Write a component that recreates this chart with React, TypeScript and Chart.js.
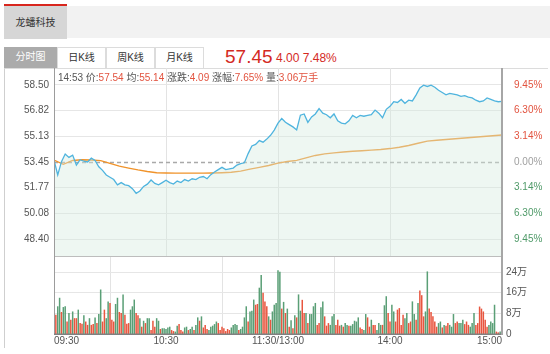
import React, { useEffect, useRef } from 'react';
import { Chart, registerables } from 'chart.js';
Chart.register(...registerables);

const FONT = '"Liberation Sans", Arial, "Noto Sans CJK SC", sans-serif';

const STOCK_NAME = '龙蟠科技';
const TABS = ['分时图', '日K线', '周K线', '月K线'];
const LAST_PRICE = '57.45';
const LAST_CHANGE = '4.00';
const LAST_PCT = '7.48%';
const INFO_LABELS = ['', '价:', '均:', '涨跌:', '涨幅:', '量:'];
const INFO_VALUES = ['14:53', '57.54', '55.14', '4.09', '7.65%', '3.06万手'];

const PREV_CLOSE = 53.45;
const PRICE_HALF_RANGE = 6.16;
const PRICE_TICKS = [58.5, 56.82, 55.13, 53.45, 51.77, 50.08, 48.4];
const PCT_LABELS = ['9.45%', '6.30%', '3.14%', '0.00%', '3.14%', '6.30%', '9.45%'];
const VOL_MAX = 30.2;
const VOL_TICKS = [0, 8, 16, 24];
const VOL_TICK_LABELS = ['0', '8万', '16万', '24万'];
const TIME_TICK_MINUTES = [0, 60, 120, 180, 240];
const TIME_LABELS = ['09:30', '10:30', '11:30/13:00', '14:00', '15:00'];
const PRICE_STEP_MIN = 2;
const AVG_STEP_MIN = 5;

// price every 2 minutes (0..240)
const PRICE = [
  53.58, 52.6, 53.47, 53.97, 53.75, 53.9, 53.25, 53.6, 53.5, 53.45,
  53.7, 53.55, 53.14, 52.9, 52.6, 52.45, 52.3, 51.95, 52.1, 51.95,
  51.9, 51.7, 51.4, 51.55, 51.85, 52.0, 52.27, 52.05, 51.95, 52.1,
  52.25, 52.1, 52.0, 52.2, 52.1, 52.3, 52.2, 52.35, 52.3, 52.45,
  52.5, 52.35, 52.62, 52.8, 52.95, 53.1, 52.95, 53.0, 53.05, 53.25,
  53.35, 53.4, 54.0, 54.5, 54.6, 54.85, 54.75, 54.95, 55.2, 55.54,
  56.0, 56.3, 56.05, 55.9, 55.75, 55.55, 56.52, 56.6, 56.05, 56.4,
  56.6, 56.95, 56.65, 56.55, 56.35, 56.6, 56.15, 56.0, 55.95, 56.15,
  56.5, 56.35, 56.5, 56.45, 56.5, 56.55, 56.85, 56.65, 56.35, 56.9,
  57.1, 57.4, 57.35, 57.55, 57.3, 57.5, 57.45, 57.85, 58.3, 58.48,
  58.4, 58.48, 58.35, 58.15, 58.0, 57.85, 57.95, 57.9, 57.85, 57.75,
  57.8, 57.7, 57.65, 57.5, 57.4, 57.45, 57.65, 57.55, 57.45, 57.4,
  57.42,
];

// average price every 5 minutes (0..240)
const AVG = [
  53.58, 53.3, 53.55, 53.6, 53.58, 53.54, 53.36, 53.18, 53.05, 52.93,
  52.83, 52.75, 52.73, 52.72, 52.72, 52.72, 52.72, 52.73, 52.75, 52.78,
  52.85, 52.98, 53.1, 53.22, 53.38, 53.48, 53.56, 53.72, 53.88, 53.98,
  54.05, 54.11, 54.15, 54.19, 54.23, 54.27, 54.33, 54.42, 54.53, 54.68,
  54.82, 54.88, 54.92, 54.97, 55.02, 55.07, 55.12, 55.17, 55.22,
];

// volume per minute (万股), 0..240
const VOLUME = [
  18.8, 7.3, 10.6, 13.9, 8.4, 10.3, 10.6, 4.7, 8.0, 5.4,
  8.6, 6.0, 6.0, 9.3, 4.1, 3.8, 7.1, 4.7, 3.4, 6.0,
  3.4, 3.7, 6.3, 4.1, 7.6, 17.1, 4.7, 9.3, 6.0, 12.5,
  11.9, 5.4, 4.7, 11.5, 13.9, 8.4, 8.0, 15.2, 7.3, 3.8,
  4.1, 9.3, 10.6, 13.2, 8.0, 7.1, 6.0, 2.7, 5.0, 4.1,
  6.0, 6.0, 1.4, 5.0, 2.7, 6.0, 5.0, 1.8, 2.1, 2.1,
  1.8, 2.4, 2.7, 1.4, 1.0, 0.8, 3.1, 3.7, 1.4, 0.8,
  2.4, 2.7, 1.4, 1.8, 2.7, 1.4, 3.4, 6.3, 5.0, 6.7,
  2.4, 3.4, 1.8, 1.4, 2.7, 3.1, 3.7, 4.7, 4.1, 1.4,
  2.7, 2.1, 1.0, 1.8, 1.4, 2.4, 3.4, 3.7, 3.4, 1.4,
  1.8, 2.7, 6.3, 10.6, 4.7, 8.6, 8.9, 13.2, 11.2, 11.5,
  17.8, 22.7, 15.8, 12.5, 10.6, 6.7, 5.4, 8.6, 11.2, 11.9,
  24.6, 24.0, 9.7, 12.3, 8.0, 9.7, 2.7, 5.2, 2.1, 7.1,
  6.3, 15.2, 8.9, 13.1, 8.0, 8.0, 4.1, 7.6, 7.6, 10.6,
  11.9, 3.4, 4.1, 10.2, 12.5, 6.7, 3.1, 4.1, 3.4, 6.7,
  7.6, 3.4, 5.4, 3.1, 3.4, 2.7, 4.1, 3.4, 3.1, 3.1,
  3.7, 5.0, 4.7, 6.3, 2.4, 1.8, 1.4, 7.6, 6.3, 2.7,
  5.4, 3.4, 3.4, 1.4, 4.1, 3.4, 3.4, 11.0, 14.5, 8.0,
  4.7, 11.2, 8.6, 4.7, 9.3, 9.9, 3.4, 7.3, 6.0, 8.0,
  4.1, 4.7, 12.5, 7.6, 5.4, 11.9, 16.7, 14.9, 6.7, 8.6,
  24.1, 9.7, 8.4, 6.7, 4.7, 2.7, 4.1, 4.7, 2.4, 3.4,
  3.1, 4.1, 3.4, 2.7, 7.6, 4.1, 4.7, 4.1, 4.1, 5.4,
  3.7, 4.7, 3.4, 2.7, 4.1, 8.0, 3.4, 4.1, 10.5, 9.7,
  8.6, 5.4, 2.7, 3.4, 4.7, 4.1, 11.2, 0.8, 0.5, 0.8,
  21.7,
];

// r = up minute, g = down minute
const VOL_DIR =
  'grggrggrgr' + 'grrgrrgrrg' + 'rrgrggrrgg' + 'rrrggrrgrr' + 'rgggrrgrgr' + 'ggrrrggrgg' +
  'gggrrggrrr' + 'ggrggrggrg' + 'rrrgggggrr' + 'rrrrrggggr' + 'ggggrgggrr' + 'ggrrrgrggg' +
  'ggrgrgrgrg' + 'rggrrgrggg' + 'grrggrrrgg' + 'grrrgrggrg' + 'ggggrrggrr' + 'grrgggrggr' +
  'rggrrrrrgg' + 'rrggrgrrrg' + 'grrrrrggrg' + 'rrgggrrggg' + 'rrrgggrrrr' + 'rrrggggrrg' + 'g';

const RED = '#e8563f';
const GREEN = '#5a9f76';

export default function App() {
  const priceRef = useRef<HTMLCanvasElement>(null);
  const volRef = useRef<HTMLCanvasElement>(null);

  useEffect(() => {
    document.body.style.margin = '0';
    const tickFont = { family: FONT, size: 10 };

    const priceFrame = {
      id: 'priceFrame',
      beforeDatasetsDraw(chart: any) {
        const { ctx, chartArea: a, scales } = chart;
        const y = Math.round(scales.y.getPixelForValue(PREV_CLOSE)) + 0.5;
        ctx.save();
        ctx.strokeStyle = '#a9a9a9';
        ctx.lineWidth = 1.5;
        ctx.setLineDash([4, 3]);
        ctx.beginPath();
        ctx.moveTo(a.left, y);
        ctx.lineTo(a.right, y);
        ctx.stroke();
        ctx.restore();
      },
      afterDraw(chart: any) {
        const { ctx, chartArea: a } = chart;
        ctx.save();
        ctx.strokeStyle = '#9c9c9c';
        ctx.lineWidth = 1;
        ctx.beginPath();
        ctx.moveTo(a.left + 0.5, a.top);
        ctx.lineTo(a.left + 0.5, a.bottom);
        ctx.stroke();
        ctx.strokeStyle = '#a6a6a6';
        ctx.lineWidth = 2;
        ctx.beginPath();
        ctx.moveTo(a.right, a.top);
        ctx.lineTo(a.right, a.bottom);
        ctx.stroke();
        ctx.restore();
      },
    };

    const volFrame = {
      id: 'volFrame',
      afterDraw(chart: any) {
        const { ctx, chartArea: a } = chart;
        ctx.save();
        ctx.strokeStyle = '#bdbdbd';
        ctx.lineWidth = 1;
        ctx.beginPath();
        ctx.moveTo(a.left, a.top + 0.5);
        ctx.lineTo(a.right, a.top + 0.5);
        ctx.stroke();
        ctx.strokeStyle = '#9c9c9c';
        ctx.beginPath();
        ctx.moveTo(a.left + 0.5, a.top);
        ctx.lineTo(a.left + 0.5, a.bottom);
        ctx.stroke();
        ctx.strokeStyle = '#808080';
        ctx.lineWidth = 1.5;
        ctx.beginPath();
        ctx.moveTo(a.left, a.bottom + 0.25);
        ctx.lineTo(a.right, a.bottom + 0.25);
        ctx.stroke();
        ctx.strokeStyle = '#a6a6a6';
        ctx.lineWidth = 2;
        ctx.beginPath();
        ctx.moveTo(a.right, a.top);
        ctx.lineTo(a.right, a.bottom + 1);
        ctx.stroke();
        ctx.restore();
      },
    };

    const priceTicks = (s: any) => {
      s.ticks = [...PRICE_TICKS].sort((p, q) => p - q).map((v) => ({ value: v }));
    };

    const pc = new Chart(priceRef.current as HTMLCanvasElement, {
      type: 'line',
      data: {
        datasets: [
          {
            data: PRICE.map((p, i) => ({ x: i * PRICE_STEP_MIN, y: p })),
            borderColor: '#4fb4de',
            borderWidth: 1.3,
            pointRadius: 0,
            fill: 'start',
            backgroundColor: 'rgba(212,234,222,0.4)',
            tension: 0,
          },
          {
            data: AVG.map((p, i) => ({ x: i * AVG_STEP_MIN, y: p })),
            borderColor: '#f0932a',
            borderWidth: 1.4,
            pointRadius: 0,
            fill: false,
            tension: 0,
          },
        ],
      },
      options: {
        animation: false,
        responsive: false,
        maintainAspectRatio: false,
        layout: { padding: 0 },
        plugins: { legend: { display: false }, tooltip: { enabled: false } },
        scales: {
          x: {
            type: 'linear',
            min: 0,
            max: 240,
            afterBuildTicks: (s: any) => {
              s.ticks = [60, 120, 180].map((v) => ({ value: v }));
            },
            ticks: { display: false },
            grid: { color: '#e3e3e3', drawTicks: false },
            border: { display: false },
            afterFit: (s: any) => {
              s.height = 0;
              s.paddingLeft = 0;
              s.paddingRight = 0;
            },
          },
          y: {
            position: 'left',
            min: PREV_CLOSE - PRICE_HALF_RANGE,
            max: PREV_CLOSE + PRICE_HALF_RANGE,
            afterBuildTicks: priceTicks,
            ticks: {
              font: tickFont,
              color: '#555',
              padding: 5,
              autoSkip: false,
              callback: (v: any) => Number(v).toFixed(2),
            },
            grid: {
              drawTicks: false,
              color: (c: any) => (c.tick && c.tick.value === PREV_CLOSE ? 'rgba(0,0,0,0)' : '#e6e6e6'),
            },
            border: { display: false },
            afterFit: (s: any) => {
              s.width = 54;
              s.paddingTop = 0;
              s.paddingBottom = 0;
            },
          },
          y2: {
            position: 'right',
            min: PREV_CLOSE - PRICE_HALF_RANGE,
            max: PREV_CLOSE + PRICE_HALF_RANGE,
            afterBuildTicks: priceTicks,
            ticks: {
              font: tickFont,
              padding: 4,
              autoSkip: false,
              color: (c: any) =>
                !c.tick ? '#999' : c.tick.value > PREV_CLOSE ? '#e2533f' : c.tick.value < PREV_CLOSE ? '#4f9a68' : '#a0a0a0',
              callback: (v: any) => PCT_LABELS[PRICE_TICKS.indexOf(Number(v))],
            },
            grid: { display: false },
            border: { display: false },
            afterFit: (s: any) => {
              s.width = 48;
              s.paddingTop = 0;
              s.paddingBottom = 0;
            },
          },
        },
      },
      plugins: [priceFrame],
    } as any);

    const vc = new Chart(volRef.current as HTMLCanvasElement, {
      type: 'bar',
      data: {
        datasets: [
          {
            data: VOLUME.map((v, i) => ({ x: i, y: v })),
            backgroundColor: VOLUME.map((_, i) => (VOL_DIR[i] === 'r' ? RED : GREEN)),
            barThickness: 0.85,
            borderWidth: 0,
          },
        ],
      },
      options: {
        animation: false,
        responsive: false,
        maintainAspectRatio: false,
        layout: { padding: 0 },
        plugins: { legend: { display: false }, tooltip: { enabled: false } },
        scales: {
          x: {
            type: 'linear',
            min: 0,
            max: 240,
            offset: false,
            afterBuildTicks: (s: any) => {
              s.ticks = TIME_TICK_MINUTES.map((v) => ({ value: v }));
            },
            ticks: {
              font: tickFont,
              color: '#555',
              padding: 1,
              align: 'inner',
              maxRotation: 0,
              autoSkip: false,
              callback: (v: any) => TIME_LABELS[TIME_TICK_MINUTES.indexOf(Number(v))],
            },
            grid: {
              drawTicks: false,
              color: (c: any) => (c.tick && (c.tick.value === 0 || c.tick.value === 240) ? 'rgba(0,0,0,0)' : '#e3e3e3'),
            },
            border: { display: false },
            afterFit: (s: any) => {
              s.height = 20;
              s.paddingLeft = 0;
              s.paddingRight = 0;
            },
          },
          y: {
            position: 'left',
            min: 0,
            max: VOL_MAX,
            ticks: { display: false },
            grid: { display: false },
            border: { display: false },
            afterFit: (s: any) => {
              s.width = 54;
              s.paddingTop = 0;
              s.paddingBottom = 0;
            },
          },
          y2: {
            position: 'right',
            min: 0,
            max: VOL_MAX,
            afterBuildTicks: (s: any) => {
              s.ticks = VOL_TICKS.map((v) => ({ value: v }));
            },
            ticks: {
              font: tickFont,
              color: '#555',
              padding: 4,
              autoSkip: false,
              callback: (v: any) => VOL_TICK_LABELS[VOL_TICKS.indexOf(Number(v))],
            },
            grid: {
              drawTicks: false,
              color: (c: any) => (c.tick && c.tick.value === 0 ? 'rgba(0,0,0,0)' : '#e6e6e6'),
            },
            border: { display: false },
            afterFit: (s: any) => {
              s.width = 48;
              s.paddingTop = 0;
              s.paddingBottom = 0;
            },
          },
        },
      },
      plugins: [volFrame],
    } as any);

    return () => {
      pc.destroy();
      vc.destroy();
    };
  }, []);

  const tabLeft = [4, 57, 106, 155];
  const tabWidth = [53, 49, 49, 49];

  return (
    <div style={{ position: 'relative', width: 550, height: 354, overflow: 'hidden', background: '#fff', fontFamily: FONT }}>
      <div style={{ position: 'absolute', left: 4, top: 4, width: 63, height: 2, background: '#d8261d' }} />
      <div
        style={{
          position: 'absolute', left: 4, top: 6, width: 63, height: 33, background: '#d6d6d6',
          color: '#333', fontSize: 10, lineHeight: '33px', textAlign: 'center',
        }}
      >
        {STOCK_NAME}
      </div>
      <div style={{ position: 'absolute', left: 67, top: 6, width: 483, height: 32, background: '#f2f2f2' }} />
      {TABS.map((t, i) => (
        <div
          key={t}
          style={{
            position: 'absolute', left: tabLeft[i], top: 47, width: tabWidth[i], height: 21,
            boxSizing: 'border-box', fontSize: 10, lineHeight: '20px', textAlign: 'center',
            background: i === 0 ? '#ababab' : '#fff', color: i === 0 ? '#fff' : '#333',
            border: i === 0 ? 'none' : '1px solid #dcdcdc', borderBottom: 'none',
          }}
        >
          {t}
        </div>
      ))}
      <div style={{ position: 'absolute', left: 225, top: 47, fontSize: 19, lineHeight: '20px', color: '#d42a1f', whiteSpace: 'nowrap' }}>
        {LAST_PRICE}
      </div>
      <div style={{ position: 'absolute', left: 276, top: 51, fontSize: 12, lineHeight: '14px', color: '#d42a1f', whiteSpace: 'nowrap' }}>
        {LAST_CHANGE} {LAST_PCT}
      </div>
      <div
        style={{
          position: 'absolute', left: 4, top: 68, width: 544, height: 280, boxSizing: 'border-box',
          borderLeft: '1px solid #cfcfcf', borderTop: '1px solid #dcdcdc',
        }}
      />
      <canvas ref={priceRef} width={550} height={188} style={{ position: 'absolute', left: 0, top: 68 }} />
      <canvas ref={volRef} width={550} height={98} style={{ position: 'absolute', left: 0, top: 256 }} />
      <div style={{ position: 'absolute', left: 58, top: 72, fontSize: 10, lineHeight: '12px', whiteSpace: 'nowrap', color: '#555' }}>
        {INFO_VALUES.map((v, i) =>
          i === 0 ? (
            <span key={i}>{v}</span>
          ) : (
            <span key={i}>
              {' '}
              {INFO_LABELS[i]}
              <span style={{ color: '#e2533f' }}>{v}</span>
            </span>
          ),
        )}
      </div>
    </div>
  );
}
